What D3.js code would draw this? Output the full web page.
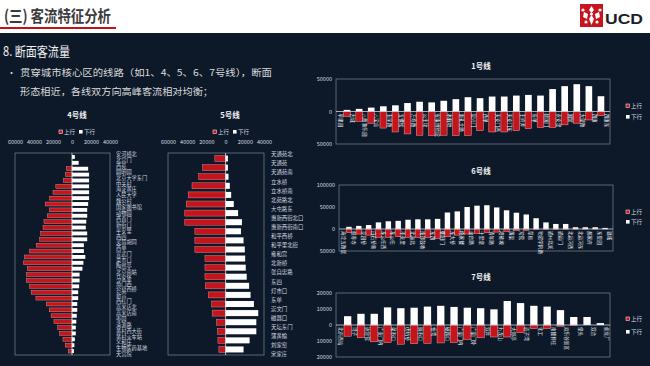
<!DOCTYPE html>
<html>
<head>
<meta charset="utf-8">
<script src="https://cdn.jsdelivr.net/npm/d3@7/dist/d3.min.js"></script>
<style>
  body { margin: 0; background: #0d1929; overflow: hidden; }
  svg { display: block; font-family: "Noto Sans CJK SC", "Noto Sans", sans-serif; }
</style>
</head>
<body>
<svg id="canvas" width="650" height="366"></svg>
<script>
"use strict"

// stations (labels) and section flows between them: 上行 (red), 下行 (white)
const line4Stations = ["安河桥北","北宫门","西苑","圆明园","北京大学东门","中关村","海淀黄庄","人民大学","魏公村","国家图书馆","动物园","西直门","新街口","平安里","西四","灵境胡同","西单","宣武门","菜市口","陶然亭","北京南站","马家堡","角门西","公益西桥","新宫","西红门","高米店北","高米店南","枣园","清源路","黄村西大街","黄村火车站","义和庄","生物医药基地","天宫院"]
const line4Up = [0,0,6000,7000,9000,17000,20000,23500,28000,23500,26000,29500,30500,33000,34000,37500,44500,50000,51000,47000,48000,48000,44500,43000,38000,27000,24000,22000,19000,15000,13000,9500,7000,4000]
const line4Down = [3000,7000,17000,18000,18000,18000,18000,18000,17000,16000,16000,15000,14500,16000,16000,12500,12500,14000,12000,11000,8000,8000,7500,6500,6500,5500,5500,5000,4500,4000,4000,3000,2500,2000]

const line5Stations = ["天通苑北","天通苑","天通苑南","立水桥","立水桥南","北苑路北","大屯路东","惠新西街北口","惠新西街南口","和平西桥","和平里北街","雍和宫","北新桥","张自忠路","东四","灯市口","东单","崇文门","磁器口","天坛东门","蒲黄榆","刘家窑","宋家庄"]
const line5Up = [11200,24000,28000,35000,39000,41000,42500,42500,32000,32000,32000,21500,21500,21500,21000,18000,14500,14000,9500,8500,8000,7000]
const line5Down = [2400,2400,3000,4400,5800,8500,13000,17000,16000,18700,20000,20400,21000,22000,24500,26000,29500,34000,32000,32000,25000,18700]

const line1Stations = ["苹果园","古城","八角游乐园","八宝山","玉泉路","五棵松","万寿路","公主坟","军事博物馆","木樨地","南礼士路","复兴门","西单","天安门西","天安门东","王府井","东单","建国门","永安里","国贸","大望路","四惠","四惠东"]
const line1Up = [7500,15000,18000,25500,31500,34500,36500,37000,36500,37000,37000,29500,31500,31500,29500,26500,24500,24500,20500,18000,13000,6500]
const line1Down = [2500,4000,6000,8000,9500,13000,15000,14000,16500,19000,22000,20500,23000,23000,24500,25500,24500,34500,39000,42000,39000,23500]

const line6Stations = ["海淀五路居","慈寿寺","花园桥","白石桥南","车公庄西","车公庄","平安里","北海北","南锣鼓巷","东四","朝阳门","东大桥","呼家楼","金台路","十里堡","青年路","褡裢坡","黄渠","常营","草房","物资学院路","通州北关","通运门","北运河西","北运河东","郝家府","东夏园","潞城"]
const line6Up = [8500,11500,14000,19000,19000,17500,19000,19000,20000,21500,17500,14000,11500,10000,8500,7000,5500,4000,3000,1500,800,500,500,300,300,200,100]
const line6Down = [5000,7000,9000,15000,17500,18500,21000,22000,22000,23000,37500,40000,50000,53000,54000,49000,42500,37000,33000,24500,15000,11500,11500,4000,4000,4000,2500]

const line7Stations = ["北京西站","湾子","达官营","广安门内","菜市口","虎坊桥","珠市口","桥湾","磁器口","广渠门内","广渠门外","双井","九龙山","大郊亭","百子湾","化工","南楼梓庄","欢乐谷景区","垡头","双合","焦化厂"]
const line7Up = [7000,8000,10500,11000,12000,11700,11500,11200,11000,9000,8000,7500,7500,4800,2300,2300,800,200,0,0]
const line7Down = [5500,7000,7000,11000,10500,10800,11500,12000,11300,10800,10500,9800,15000,13700,12000,11500,9300,5000,5000,1200]

const legendNames = ["上行", "下行"]

const RED = "#c4141c"
const RED_EDGE = "#eaa2a2"
const BOX = "#6b7889"
const TXT = "#d6dbe1"

const svg = d3.select("#canvas")

// ---- header
svg.append("rect").attr("width", 650).attr("height", 33).attr("fill", "#ffffff")
svg.append("text")
  .attr("x", 4).attr("y", 22)
  .attr("font-size", 16).attr("font-weight", "bold").attr("fill", "#3b3b3b")
  .attr("textLength", 107).attr("lengthAdjust", "spacingAndGlyphs")
  .text("(三) 客流特征分析")
svg.append("rect").attr("x", 0).attr("y", 27).attr("width", 116).attr("height", 2).attr("fill", "#c0121b")

// logo
const logo = svg.append("g").attr("transform", "translate(580,4)")
logo.append("rect").attr("width", 23).attr("height", 23).attr("fill", "#c8141e")
logo.append("path")
  .attr("d", "M11.5 2 L14 6 L11.5 9 L9 6 Z M4 8 L8 10 L7 15 L3 13 Z M19 8 L15 10 L16 15 L20 13 Z M11.5 11 L14 15 L11.5 21 L9 15 Z")
  .attr("fill", "#ffffff")
;[[6,18],[17,18],[11.5,10],[3,6],[20,6]].forEach(([cx, cy]) => {
  logo.append("circle").attr("cx", cx).attr("cy", cy).attr("r", 1.6).attr("fill", "#ffffff")
})
svg.append("text")
  .attr("x", 605).attr("y", 24)
  .attr("font-family", "Liberation Sans, Arial, sans-serif")
  .attr("font-size", 15).attr("font-weight", "bold").attr("fill", "#1b1f2a")
  .attr("textLength", 38).attr("lengthAdjust", "spacingAndGlyphs")
  .text("UCD")

// ---- text block
svg.append("text")
  .attr("x", 3).attr("y", 56)
  .attr("font-size", 13).attr("fill", "#f0f0f0")
  .attr("textLength", 67).attr("lengthAdjust", "spacingAndGlyphs")
  .text("8. 断面客流量")
svg.append("text").attr("x", 7).attr("y", 76).attr("font-size", 9).attr("fill", "#d9d9d9").text("•")
svg.append("text")
  .attr("x", 20).attr("y", 76)
  .attr("font-size", 9.5).attr("fill", "#d9d9d9")
  .attr("textLength", 252).attr("lengthAdjust", "spacingAndGlyphs")
  .text("贯穿城市核心区的线路（如1、4、5、6、7号线），断面")
svg.append("text")
  .attr("x", 20).attr("y", 95)
  .attr("font-size", 9.5).attr("fill", "#d9d9d9")
  .attr("textLength", 193).attr("lengthAdjust", "spacingAndGlyphs")
  .text("形态相近，各线双方向高峰客流相对均衡；")

function legendItem(g, x, y, i) {
  g.append("rect")
    .attr("x", x).attr("y", y - 2).attr("width", 3.6).attr("height", 3.6)
    .attr("fill", i === 0 ? RED : "#ffffff")
    .attr("stroke", i === 0 ? "#f4dada" : "none").attr("stroke-width", 0.6)
  g.append("text")
    .attr("x", x + 5).attr("y", y + 1.8)
    .attr("font-size", 5.5).attr("fill", TXT)
    .text(legendNames[i])
}

// ---- charts with horizontal bars (stations down the side)
function sideChart(c) {
  const g = svg.append("g")
  const x = d3.scaleLinear().domain([-60000, 40000]).range([c.x0, c.x1])
  const y = d3.scalePoint().domain(c.stations).range([c.y0 + 1, c.y1 - 1])
  const step = y.step()
  const mid = i => (y(c.stations[i]) + y(c.stations[i + 1])) / 2
  const h = step * 0.66

  g.append("rect")
    .attr("x", c.x0).attr("y", c.y0)
    .attr("width", c.x1 - c.x0).attr("height", c.y1 - c.y0)
    .attr("fill", "none").attr("stroke", BOX).attr("stroke-width", 0.8)

  g.selectAll(".up").data(c.up).join("rect")
    .attr("x", d => x(-d)).attr("y", (d, i) => mid(i) - h / 2)
    .attr("width", d => x(0) - x(-d)).attr("height", h)
    .attr("fill", RED).attr("stroke", RED_EDGE).attr("stroke-width", d => d > 0 ? 0.4 : 0)
  g.selectAll(".down").data(c.down).join("rect")
    .attr("x", x(0)).attr("y", (d, i) => mid(i) - h / 2)
    .attr("width", d => x(d) - x(0)).attr("height", h)
    .attr("fill", "#ffffff")

  g.append("line")
    .attr("x1", x(0)).attr("x2", x(0)).attr("y1", c.y0).attr("y2", c.y1)
    .attr("stroke", "#e6e6e6").attr("stroke-width", 0.8)

  const ax = g.append("g")
    .attr("transform", `translate(0,${c.y0 - 6})`)
    .call(d3.axisTop(x).tickValues([-60000, -40000, -20000, 0, 20000, 40000]).tickSize(0).tickFormat(d => Math.abs(d)))
  ax.select(".domain").remove()
  ax.selectAll("text").attr("font-size", 5.5).attr("fill", TXT).attr("font-family", "Noto Sans CJK SC")

  const ay = g.append("g")
    .attr("transform", `translate(${c.labelX - 3},0)`)
    .call(d3.axisRight(y).tickSize(0))
  ay.select(".domain").remove()
  ay.selectAll("text").attr("font-size", c.labelSize).attr("fill", TXT).attr("font-family", "Noto Sans CJK SC")

  g.append("text")
    .attr("x", c.titleX).attr("y", 118).attr("text-anchor", "middle")
    .attr("font-size", 7.5).attr("font-weight", "bold").attr("fill", "#f2f2f2")
    .text(c.title)
  legendItem(g, c.legendX, 132, 0)
  legendItem(g, c.legendX + 20, 132, 1)
}

// ---- column charts (stations along the bottom)
function columnChart(c) {
  const g = svg.append("g")
  const x = d3.scalePoint().domain(c.stations).range([c.x0 + 5, c.x1 - 3])
  const y = d3.scaleLinear().domain(c.domain).range([c.y1, c.y0])
  const step = x.step()
  const mid = i => (x(c.stations[i]) + x(c.stations[i + 1])) / 2
  const w = step * 0.55

  g.append("rect")
    .attr("x", c.x0).attr("y", c.y0)
    .attr("width", c.x1 - c.x0).attr("height", c.y1 - c.y0)
    .attr("fill", "none").attr("stroke", BOX).attr("stroke-width", 0.8)

  g.selectAll(".down").data(c.down).join("rect")
    .attr("x", (d, i) => mid(i) - w / 2).attr("y", d => y(d))
    .attr("width", w).attr("height", d => y(0) - y(d))
    .attr("fill", "#ffffff")
  g.selectAll(".up").data(c.up).join("rect")
    .attr("x", (d, i) => mid(i) - w / 2).attr("y", y(0))
    .attr("width", w).attr("height", d => y(-d) - y(0))
    .attr("fill", RED).attr("stroke", RED_EDGE).attr("stroke-width", d => d > 0 ? 0.5 : 0)

  g.append("line")
    .attr("x1", c.x0).attr("x2", c.x1).attr("y1", y(0)).attr("y2", y(0))
    .attr("stroke", "#cfd5dc").attr("stroke-width", 0.8)

  const ay = g.append("g")
    .attr("transform", `translate(${c.x0 - 1},0)`)
    .call(d3.axisLeft(y).tickValues(c.ticks).tickSize(0).tickFormat(d => Math.abs(d)))
  ay.select(".domain").remove()
  ay.selectAll("text").attr("font-size", 5.5).attr("fill", TXT).attr("font-family", "Noto Sans CJK SC")

  g.selectAll(".st").data(c.stations).join("text")
    .attr("transform", d => `translate(${x(d) - 1.8},${y(0) + 2}) rotate(90)`)
    .attr("font-size", 4.6).attr("fill", "#e8ecf0")
    .text(d => d)

  g.append("text")
    .attr("x", 481).attr("y", c.titleY).attr("text-anchor", "middle")
    .attr("font-size", 7.5).attr("font-weight", "bold").attr("fill", "#f2f2f2")
    .text(c.title)
  legendItem(g, 626, c.legendY, 0)
  legendItem(g, 626, c.legendY + c.legendGap, 1)
}

sideChart({ stations: line4Stations, up: line4Up, down: line4Down, x0: 15, x1: 110, y0: 153, y1: 355,
  labelX: 116, labelSize: 5.2, title: "4号线", titleX: 77, legendX: 59 })
sideChart({ stations: line5Stations, up: line5Up, down: line5Down, x0: 168, x1: 264, y0: 153, y1: 355,
  labelX: 271, labelSize: 5.4, title: "5号线", titleX: 230, legendX: 213 })

columnChart({ stations: line1Stations, up: line1Up, down: line1Down, x0: 336, x1: 610, y0: 79, y1: 144,
  domain: [-50000, 50000], ticks: [-50000, 0, 50000], title: "1号线", titleY: 69, legendY: 106, legendGap: 11 })
columnChart({ stations: line6Stations, up: line6Up, down: line6Down, x0: 339, x1: 613, y0: 185, y1: 251,
  domain: [-50000, 100000], ticks: [-50000, 0, 50000, 100000], title: "6号线", titleY: 174, legendY: 212, legendGap: 10 })
columnChart({ stations: line7Stations, up: line7Up, down: line7Down, x0: 336, x1: 610, y0: 293, y1: 357,
  domain: [-20000, 20000], ticks: [-20000, -10000, 0, 10000, 20000], title: "7号线", titleY: 280, legendY: 319, legendGap: 13 })
</script>
</body>
</html>
